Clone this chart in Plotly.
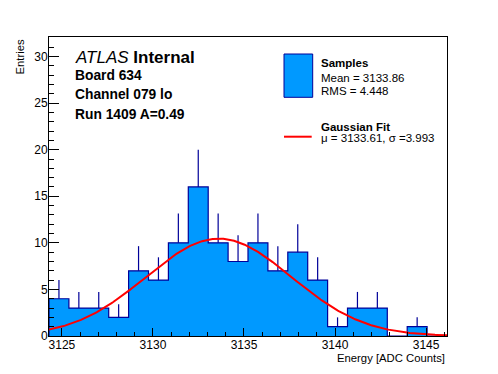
import numpy as np
import plotly.graph_objects as go

# ---- data ----
bin_low = 3124.29
bin_high = 3146.15
n_bins = 20
counts = [4, 3, 3, 2, 7, 6, 10, 16, 10, 8, 10, 7, 9, 6, 1, 3, 3, 0, 1, 0]
fit_mu = 3133.61
fit_sigma = 3.993
fit_amp = 10.45
x_ticks = [3125, 3130, 3135, 3140, 3145]
y_ticks = [0, 5, 10, 15, 20, 25, 30]
y_max = 32.1

FILL = "#0099ff"
EDGE = "#000099"
FONT = "Liberation Sans, Arial, Helvetica, sans-serif"

edges = np.linspace(bin_low, bin_high, n_bins + 1)
centers = 0.5 * (edges[:-1] + edges[1:])
cnt = np.array(counts, dtype=float)

fig = go.Figure()

# filled step histogram
sx = [edges[0]] + list(edges[:-1]) + [edges[-1]]
sy = [0] + counts + [0]
fig.add_trace(go.Scatter(x=sx, y=sy, mode="lines", line=dict(shape="hv", color=EDGE, width=1.2),
                         fill="tozeroy", fillcolor=FILL, hoverinfo="skip", showlegend=False))

# error bars (upper half)
mask = cnt > 0
fig.add_trace(go.Scatter(x=centers[mask], y=cnt[mask], mode="markers",
                         marker=dict(size=0.1, color=EDGE, opacity=0),
                         error_y=dict(type="data", array=np.sqrt(cnt[mask]), arrayminus=[0] * int(mask.sum()),
                                      symmetric=False, width=0, thickness=1.2, color=EDGE),
                         hoverinfo="skip", showlegend=False))

# gaussian fit
fx = np.linspace(bin_low, bin_high, 300)
fy = fit_amp * np.exp(-0.5 * ((fx - fit_mu) / fit_sigma) ** 2)
fig.add_trace(go.Scatter(x=fx, y=fy, mode="lines", line=dict(color="#ff0000", width=2),
                         hoverinfo="skip", showlegend=False))

L, R, T, B = 49, 447, 37, 336
W, H = R - L, B - T


def px(x):
    return (x - L) / W


def py(y):
    return (B - y) / H


ann = []


def text(x, y, s, size, xanchor="left", yanchor="middle", angle=0):
    ann.append(dict(x=px(x), y=py(y), xref="paper", yref="paper", text=s, showarrow=False,
                    xanchor=xanchor, yanchor=yanchor, textangle=angle,
                    font=dict(family=FONT, size=size, color="black")))


text(73, 57.5, "<i>ATLAS</i> <b>Internal</b>", 17)
text(73, 75.5, "<b>Board 634</b>", 13.8)
text(73, 94, "<b>Channel 079 lo</b>", 13.8)
text(73, 114, "<b>Run 1409 A=0.49</b>", 13.8)

text(319, 62.5, "<b>Samples</b>", 11.5)
text(319, 78, "Mean = 3133.86", 11.5)
text(319, 90.5, "RMS = 4.448", 11.5)
text(319, 127, "<b>Gaussian Fit</b>", 11.5)
text(319, 138, "\u03bc = 3133.61, \u03c3 =3.993", 11.5)

text(447, 358, "Energy [ADC Counts]", 11.3, xanchor="right")
text(19.5, 37, "Entries", 11.3, xanchor="center", yanchor="top", angle=-90)

shapes = [
    dict(type="rect", xref="paper", yref="paper", x0=px(284), x1=px(312.7), y0=py(97.3), y1=py(54),
         fillcolor=FILL, line=dict(color=EDGE, width=1)),
    dict(type="line", xref="paper", yref="paper", x0=px(284), x1=px(311.7), y0=py(136.7), y1=py(136.7),
         line=dict(color="#ff0000", width=2)),
]

fig.update_layout(
    width=498, height=374,
    margin=dict(l=L, r=498 - R, t=T, b=374 - B, pad=0),
    paper_bgcolor="white", plot_bgcolor="white",
    annotations=ann, shapes=shapes,
    font=dict(family=FONT, size=12, color="black"),
    xaxis=dict(range=[bin_low, bin_high], tickvals=x_ticks, ticks="inside", ticklen=8, tickwidth=1,
               tickcolor="black", showline=True, linecolor="black", linewidth=1, mirror=True,
               showgrid=False, zeroline=False, tickfont=dict(family=FONT, size=12),
               ticklabelstandoff=-2,
               minor=dict(ticks="inside", ticklen=4, dtick=1, tickcolor="black", showgrid=False)),
    yaxis=dict(range=[0, y_max], tickvals=y_ticks, ticks="inside", ticklen=10, tickwidth=1,
               tickcolor="black", showline=True, linecolor="black", linewidth=1, mirror=True,
               showgrid=False, zeroline=False, tickfont=dict(family=FONT, size=12),
               ticklabelstandoff=-2,
               minor=dict(ticks="inside", ticklen=5, dtick=1, tickcolor="black", showgrid=False)),
)

fig.write_html("out.html", config={"displayModeBar": False},
               post_script="document.body.style.margin='0';document.body.style.padding='0';")
